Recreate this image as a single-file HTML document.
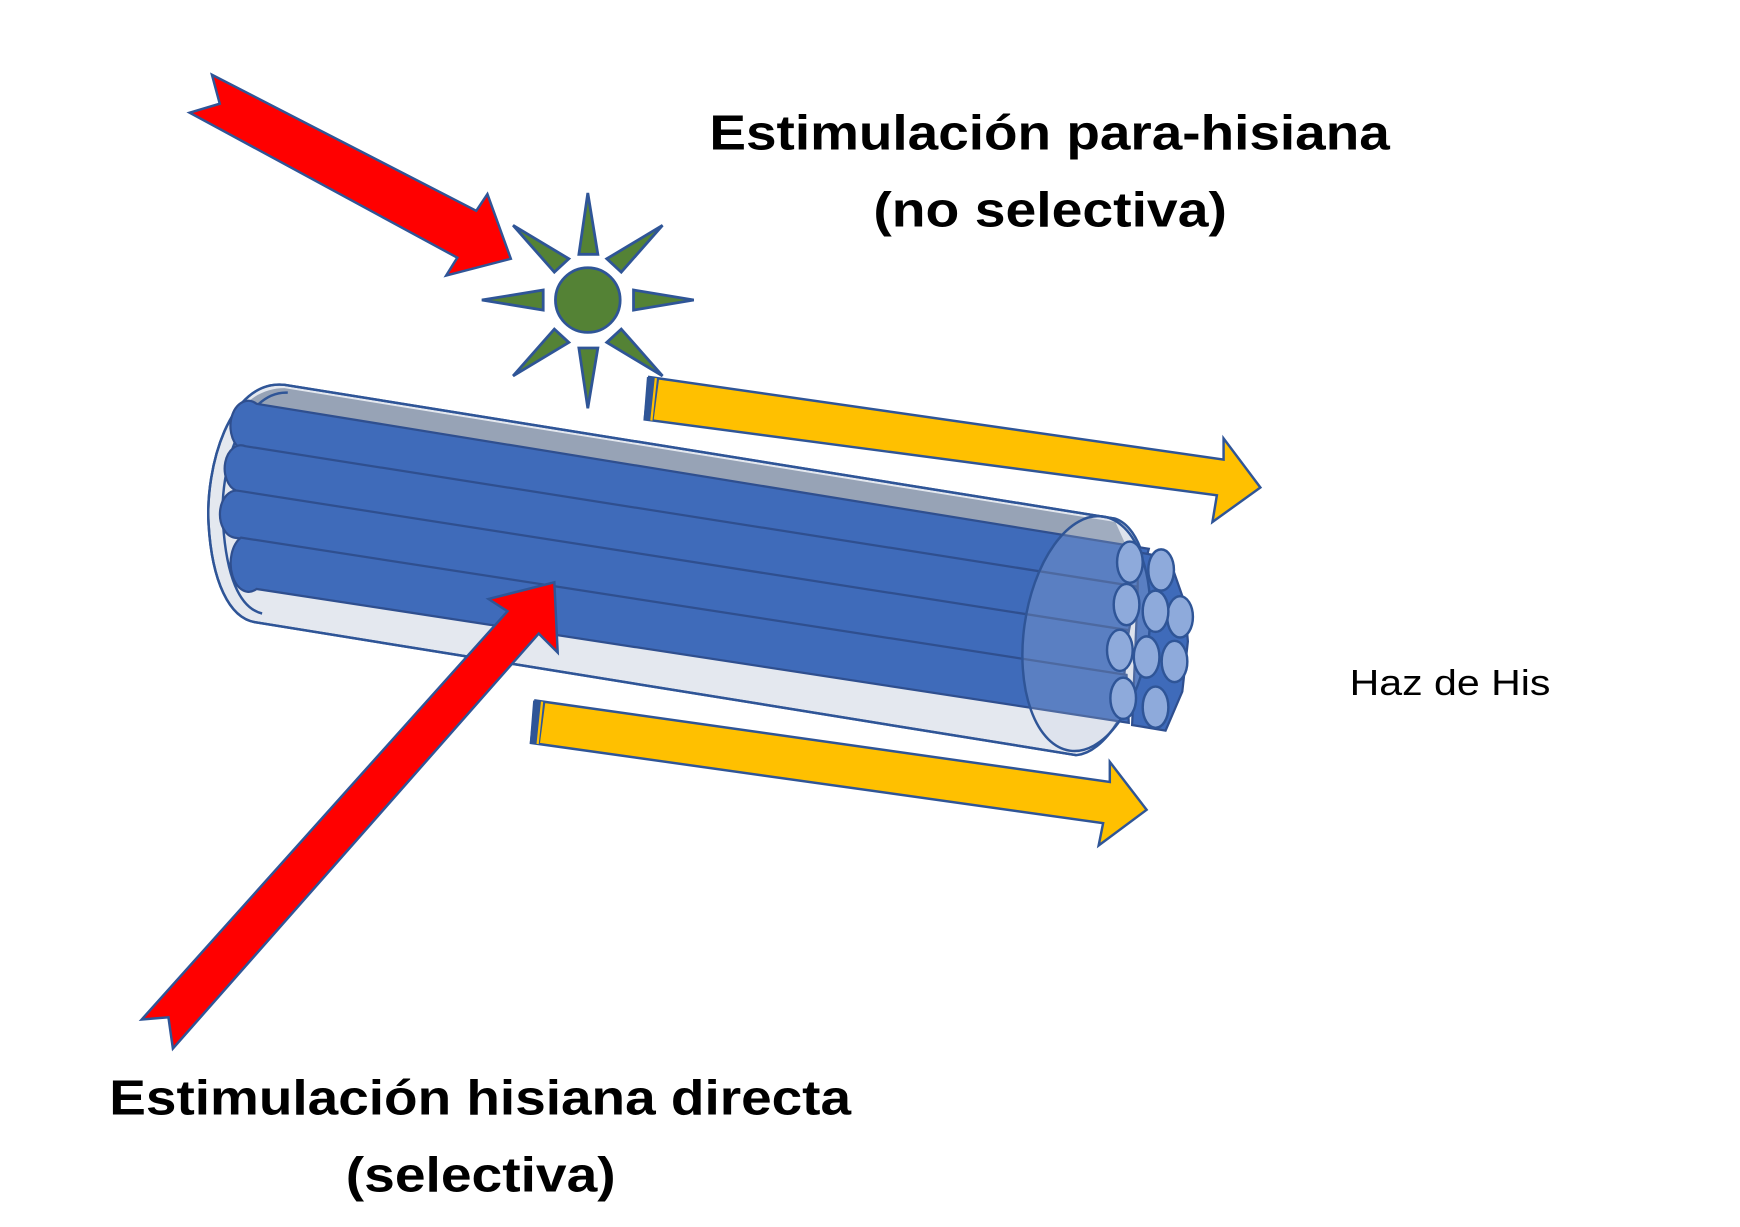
<!DOCTYPE html>
<html><head><meta charset="utf-8"><style>html,body{margin:0;padding:0;background:#fff}svg{display:block}</style></head>
<body>
<svg width="1740" height="1227" viewBox="0 0 1560 1100" preserveAspectRatio="none" xmlns="http://www.w3.org/2000/svg">
<g stroke="#2f5597" stroke-width="2.2" stroke-linejoin="miter">
<!-- red arrow top -->
<polygon fill="#ff0000" points="190,67 427,189 437,174 458,232 400,247 410,231 170,101 197,93"/>
<!-- sun -->
<g fill="#548235" stroke-width="2.5">
<circle cx="527" cy="269" r="29"/>
<polygon points="527,173 519,228 536,228"/>
<polygon points="527,366 519,312 536,312"/>
<polygon points="432,269 487,260 487,278"/>
<polygon points="622,269 568,260 568,278"/>
<polygon points="460,202 497,244 510,232"/>
<polygon points="594,202 557,244 544,232"/>
<polygon points="460,337 497,295 510,307"/>
<polygon points="594,337 557,295 544,307"/>
</g>
<!-- yellow arrows -->
<polygon fill="#ffc000" points="582,338 1097,412 1097,393 1130,437 1087,468 1091,444 578,376"/>
<polygon fill="#2f5597" stroke="none" points="580,338 591,339 586,377 577,376"/>
<line x1="588" y1="339" x2="584" y2="377" stroke="#ffc000" stroke-width="2"/>
<polygon fill="#ffc000" points="480,628 995,701 995,683 1028,726 985,758 989,738 476,666"/>
<polygon fill="#2f5597" stroke="none" points="478,628 489,629 484,667 475,666"/>
<line x1="486" y1="629" x2="482" y2="667" stroke="#ffc000" stroke-width="2"/>
<!-- outer tube -->
<path fill="#e4e8ef" d="M255,345 L1000,465 A50,108 10 0 1 965,677 L230,558 C205,555 190,520 187,470 C184,420 205,340 255,345 Z"/>
<path fill="#97a3b6" stroke="none" d="M255,348 L1000,468 L1010,490 L230,364 C225,360 215,370 205,385 C215,360 235,348 255,348 Z"/>
<path fill="none" d="M255,345 L1000,465 M230,558 L965,677 M255,345 C205,340 184,420 187,470 C190,520 205,555 230,558"/>
<path fill="none" d="M258,352 C218,350 196,420 200,470 C203,515 214,545 235,550"/>
<!-- fibers -->
<g fill="#3f6bba" stroke="#2f4f8f" stroke-width="2">
<path d="M230,362 L1030,492 L1020,530 L215,402 A14,20 0 0 1 230,362 Z"/>
<path d="M220,400 L1020,526 L1012,566 L212,440 A14,20 0 0 1 220,400 Z"/>
<path d="M214,440 L1012,565 L1008,605 L210,482 A14,20 0 0 1 214,440 Z"/>
<path d="M216,482 L1010,605 L1012,648 L230,528 A14,22 0 0 1 216,482 Z"/>
<path d="M1020,495 L1048,500 L1062,540 L1065,575 L1060,620 L1045,655 L1015,650 L1020,530 Z"/>
</g>
<!-- end cap -->
<ellipse cx="974" cy="568" rx="56" ry="106" transform="rotate(8 974 568)" fill="#c9d3e6" fill-opacity="0.2"/>
<g fill="#8eaadb" stroke-width="2.2">
<ellipse cx="1041" cy="511" rx="11.5" ry="18.5"/>
<ellipse cx="1058" cy="553" rx="11.5" ry="18.5"/>
<ellipse cx="1053" cy="593" rx="11.5" ry="18.5"/>
<ellipse cx="1036" cy="634" rx="11.5" ry="18.5"/>
<ellipse cx="1036" cy="548" rx="11.5" ry="18.5"/>
<ellipse cx="1028" cy="589" rx="11.5" ry="18.5"/>
<ellipse cx="1013" cy="504" rx="11.5" ry="18.5"/>
<ellipse cx="1010" cy="542" rx="11.5" ry="18.5"/>
<ellipse cx="1004" cy="583" rx="11.5" ry="18.5"/>
<ellipse cx="1007" cy="626" rx="11.5" ry="18.5"/>
</g>
<!-- red arrow bottom -->
<polygon fill="#ff0000" points="127,914 455,548 438,537 497,522 500,585 483,568 155,940 151,912"/>
</g>
<g font-family="Liberation Sans, sans-serif" font-weight="bold" fill="#000">
<text x="636" y="134" font-size="44" textLength="610" lengthAdjust="spacingAndGlyphs">Estimulación para-hisiana</text>
<text x="783" y="203" font-size="44" textLength="317" lengthAdjust="spacingAndGlyphs">(no selectiva)</text>
<text x="98" y="999" font-size="44" textLength="665" lengthAdjust="spacingAndGlyphs">Estimulación hisiana directa</text>
<text x="310" y="1068" font-size="44" textLength="242" lengthAdjust="spacingAndGlyphs">(selectiva)</text>
</g>
<text x="1210" y="623" font-family="Liberation Sans, sans-serif" font-size="32" textLength="180" lengthAdjust="spacingAndGlyphs" fill="#000">Haz de His</text>
</svg>
</body></html>
